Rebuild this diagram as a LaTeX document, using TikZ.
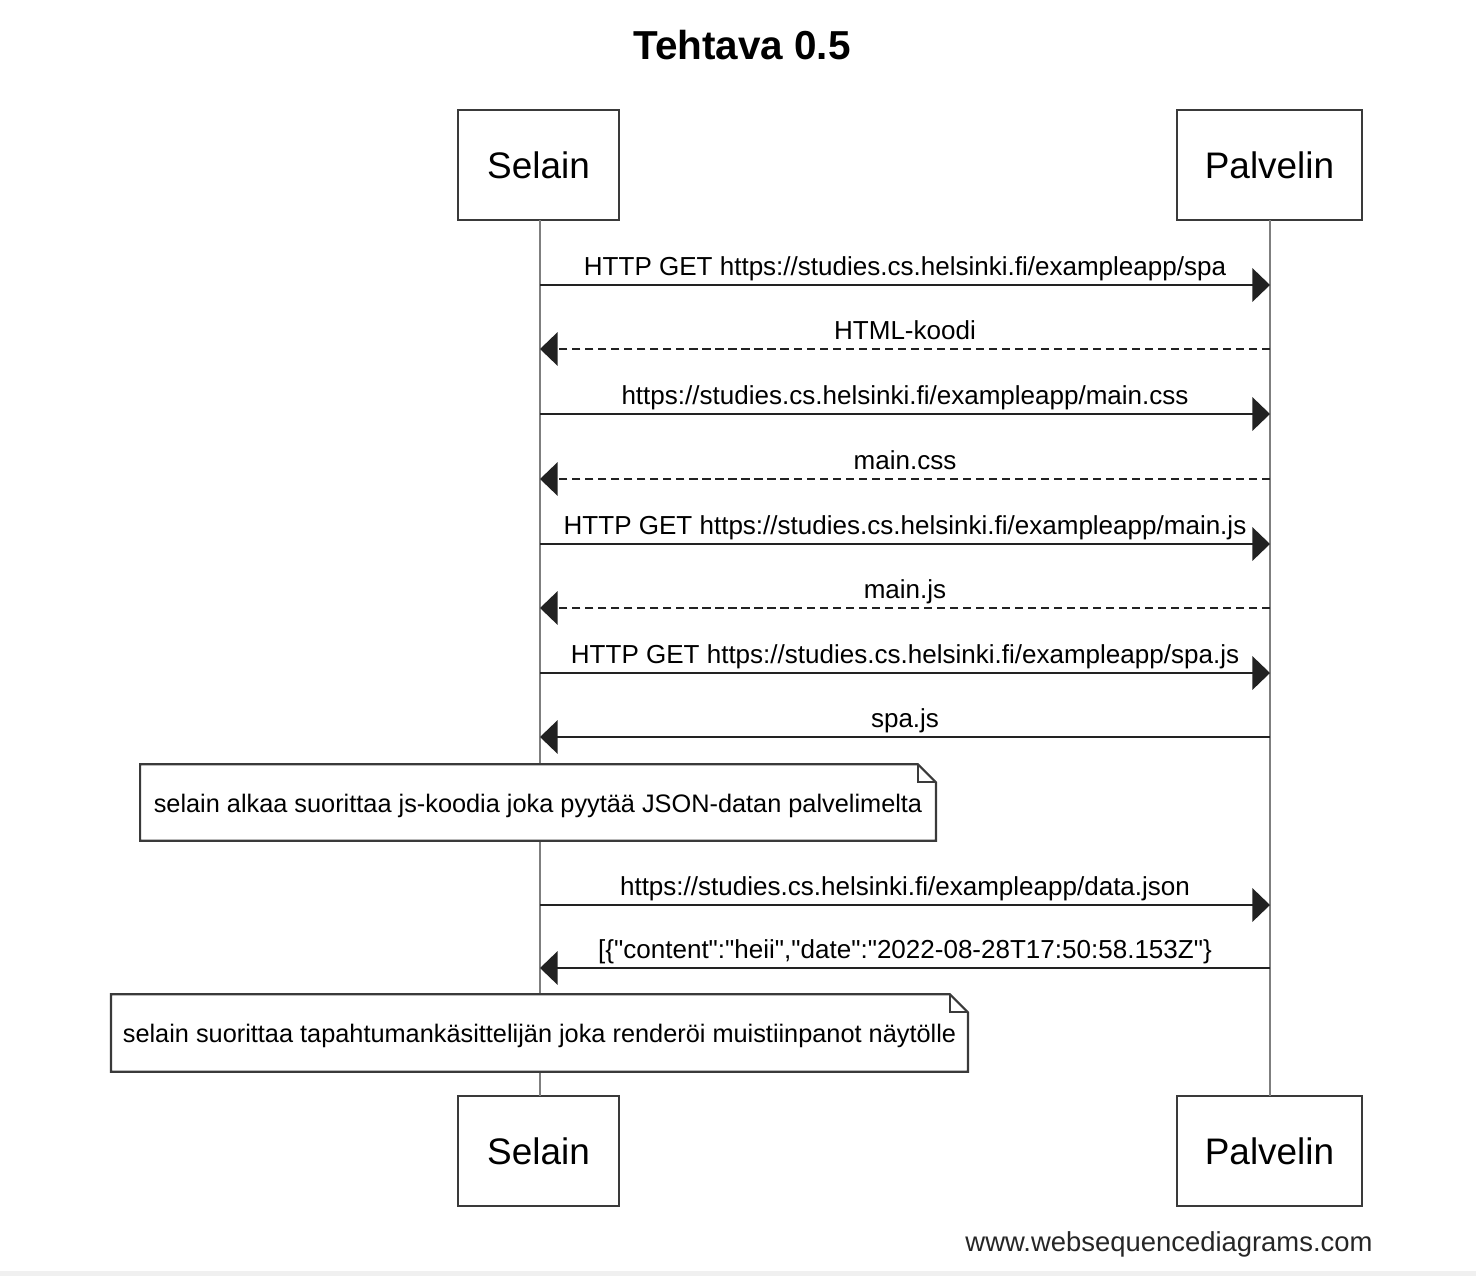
\documentclass[tikz,border=0pt]{standalone}
\usepackage{fontspec}
\setmainfont{Liberation Sans}[Ligatures=TeXOff]
\usetikzlibrary{arrows.meta}
\usetikzlibrary{calc}
\usetikzlibrary{positioning}

\definecolor{boxline}{HTML}{3A3A3A}
\definecolor{lifegray}{HTML}{7F7F7F}
\definecolor{msgline}{HTML}{222222}

\tikzset{
  actor/.style={draw=boxline, line width=0.6pt, fill=white, minimum height=1.10cm,
    inner sep=0pt, font=\fontsize{10.5}{12}\selectfont},
  life/.style={draw=lifegray, line width=0.7pt},
  req/.style={draw=msgline, line width=0.5pt, -{Triangle[length=5pt,width=9.5pt]}},
  resp/.style={req, dash pattern=on 2.3pt off 1.4pt},
  msglabel/.style={midway, anchor=base, yshift=0.095cm, inner sep=0pt,
    font=\fontsize{7.4}{9}\selectfont},
  notebox/.style={fill=white, inner sep=0pt, text height=6.6pt, text depth=1.0pt,
    font=\fontsize{7.2}{9}\selectfont},
  notefold/.style={draw=boxline, line width=0.6pt}
}

\begin{document}
\begin{tikzpicture}[x=0.01cm, y=-0.01cm]
    \useasboundingbox (0,0) rectangle (1476,1276);
    \fill[gray!12] (0,1271) rectangle (1476,1276); % bottom strip

    % Title
    \node[font=\bfseries\fontsize{11.5}{13}\selectfont] (title) at (742,45) {Tehtava 0.5};

    % Participants (top and bottom)
    \node[actor, minimum width=1.61cm] (selTop) at (538.5,165) {Selain};
    \node[actor, minimum width=1.85cm] (palTop) at (1269.5,165) {Palvelin};
    \node[actor, minimum width=1.61cm] (selBot) at (538.5,1151) {Selain};
    \node[actor, minimum width=1.85cm] (palBot) at (1269.5,1151) {Palvelin};

    % Lifelines
    \coordinate (selA) at (540,220);
    \coordinate (selB) at (540,1096);
    \coordinate (palA) at (1270,220);
    \coordinate (palB) at (1270,1096);
    \draw[life] (selA) -- (selB);
    \draw[life] (palA) -- (palB);

    % Message end points on the lifelines
    \foreach \i/\y in {1/285,2/349,3/414,4/479,5/544,6/608,7/673,8/737,9/905,10/968} {
        \coordinate (s\i) at (540,\y);
        \coordinate (p\i) at (1270,\y);
    }

    % Messages
    \draw[req] (s1) -- (p1) node[msglabel] {HTTP GET https://studies.cs.helsinki.fi/exampleapp/spa};
    \draw[resp] (p2) -- (s2) node[msglabel] {HTML-koodi};
    \draw[req] (s3) -- (p3) node[msglabel] {https://studies.cs.helsinki.fi/exampleapp/main.css};
    \draw[resp] (p4) -- (s4) node[msglabel] {main.css};
    \draw[req] (s5) -- (p5) node[msglabel] {HTTP GET https://studies.cs.helsinki.fi/exampleapp/main.js};
    \draw[resp] (p6) -- (s6) node[msglabel] {main.js};
    \draw[req] (s7) -- (p7) node[msglabel] {HTTP GET https://studies.cs.helsinki.fi/exampleapp/spa.js};
    \draw[req] (p8) -- (s8) node[msglabel] {spa.js};
    \draw[req] (s9) -- (p9) node[msglabel] {https://studies.cs.helsinki.fi/exampleapp/data.json};
    \draw[req] (p10) -- (s10) node[msglabel]
        {[\{"content":"heii","date":"2022-08-28T17:50:58.153Z"\}};

    % Notes
    \node[notebox, minimum width=7.94cm, minimum height=0.75cm] (note1) at (538,802.5)
        {selain alkaa suorittaa js-koodia joka pyytää JSON-datan palvelimelta};
    \node[notebox, minimum width=8.55cm, minimum height=0.76cm] (note2) at (539.5,1033)
        {selain suorittaa tapahtumankäsittelijän joka renderöi muistiinpanot näytölle};
    \foreach \n in {note1,note2} {
        \draw[notefold] (\n.north west) -- ([xshift=-0.18cm]\n.north east)
            -- ([yshift=-0.18cm]\n.north east) -- (\n.south east) -- (\n.south west) -- cycle;
        \draw[notefold] ([xshift=-0.18cm]\n.north east) |- ([yshift=-0.18cm]\n.north east);
    }

    % Footer
    \node[font=\fontsize{7.8}{9}\selectfont, text=black!85] (wsd) at (1169,1244) {www.websequencediagrams.com};
\end{tikzpicture}
\end{document}
